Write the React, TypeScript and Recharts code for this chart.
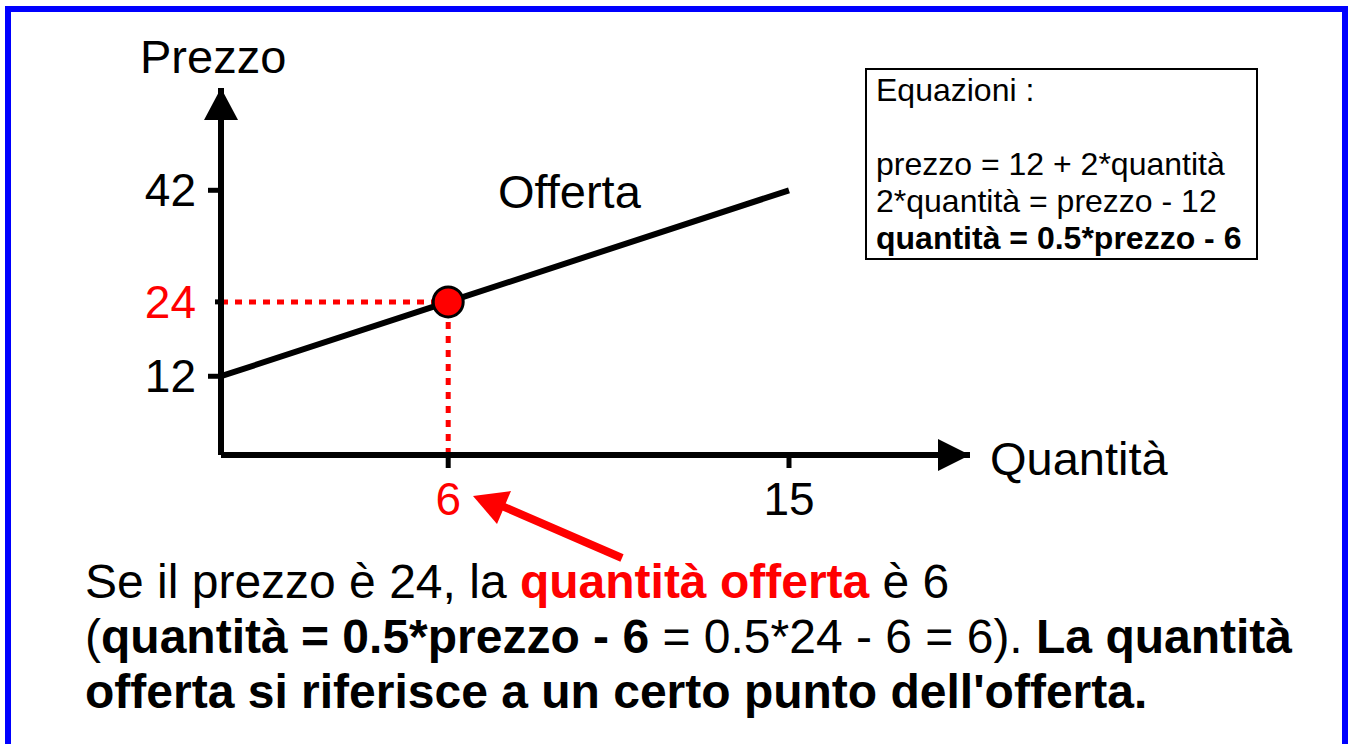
import React from 'react';
import { LineChart, Line, XAxis, YAxis, ReferenceDot, ReferenceLine } from 'recharts';

const supplyQty = [0, 6, 15];
const supplyPrice = [12, 24, 42];
const xTicks = [6, 15];
const yTicks = [12, 24, 42];
const highlightQty = 6;
const highlightPrice = 24;
const xDomain = [0, 19.78];
const yDomain = [-0.7, 58.5];

const equations = ['prezzo = 12 + 2*quantità', '2*quantità = prezzo - 12'];
const boldEquation = 'quantità = 0.5*prezzo - 6';

const data = supplyQty.map((q, i) => ({ q, p: supplyPrice[i] }));

const FONT = '"Liberation Sans", Arial, sans-serif';
const RED = '#ff0000';

const YTick = (props: any) => {
  const { x, y, payload } = props;
  const hot = payload.value === highlightPrice;
  return (
    <g>
      <line x1={x - (hot ? 6 : 13)} x2={x} y1={y} y2={y} stroke="#000" strokeWidth={5} />
      <text x={x - 25} y={y + 16} textAnchor="end" fontSize={46} fontFamily={FONT} fill={hot ? RED : '#000'}>
        {payload.value}
      </text>
    </g>
  );
};

const XTick = (props: any) => {
  const { x, y, payload } = props;
  const hot = payload.value === highlightQty;
  return (
    <g>
      <line x1={x} x2={x} y1={y} y2={y + 13} stroke="#000" strokeWidth={5} />
      <text x={x} y={y + 60} textAnchor="middle" fontSize={46} fontFamily={FONT} fill={hot ? RED : '#000'}>
        {payload.value}
      </text>
    </g>
  );
};

const ArrowRight = (props: any) => {
  const { cx, cy } = props;
  return <polygon points={`${cx},${cy} ${cx - 32},${cy - 16} ${cx - 32},${cy + 16}`} fill="#000" />;
};

const ArrowUp = (props: any) => {
  const { cx, cy } = props;
  return <polygon points={`${cx},${cy} ${cx - 17},${cy + 32} ${cx + 17},${cy + 32}`} fill="#000" />;
};

export default function App() {
  return (
    <div style={{ position: 'absolute', left: 0, top: 0, width: 1354, height: 744, background: '#fff', overflow: 'hidden', fontFamily: FONT }}>
      <div style={{ position: 'absolute', left: 5, top: 6, width: 1343, height: 800, border: '6px solid #0000ff', boxSizing: 'border-box' }} />
      <div style={{ position: 'absolute', left: 0, top: 0 }}>
        <LineChart width={1354} height={744} data={data} margin={{ top: 88, right: 384, left: 0, bottom: 0 }}>
          <XAxis
            type="number"
            dataKey="q"
            domain={xDomain}
            allowDataOverflow
            ticks={xTicks}
            height={289}
            tickSize={0}
            tickMargin={0}
            tickLine={false}
            axisLine={{ stroke: '#000', strokeWidth: 6 }}
            tick={<XTick />}
          />
          <YAxis
            type="number"
            domain={yDomain}
            allowDataOverflow
            ticks={yTicks}
            width={221}
            tickSize={0}
            tickMargin={0}
            tickLine={false}
            axisLine={{ stroke: '#000', strokeWidth: 6 }}
            tick={<YTick />}
          />
          <ReferenceLine
            segment={[{ x: 0, y: highlightPrice }, { x: highlightQty, y: highlightPrice }]}
            stroke={RED}
            strokeWidth={5}
            strokeDasharray="7 7"
            ifOverflow="visible"
          />
          <ReferenceLine
            segment={[{ x: highlightQty, y: yDomain[0] }, { x: highlightQty, y: highlightPrice }]}
            stroke={RED}
            strokeWidth={5}
            strokeDasharray="7 7"
            ifOverflow="visible"
          />
          <Line type="linear" dataKey="p" stroke="#000" strokeWidth={6} dot={false} isAnimationActive={false} />
          <ReferenceDot x={highlightQty} y={highlightPrice} r={15} fill={RED} stroke="#000" strokeWidth={3} ifOverflow="visible" />
          <ReferenceDot x={xDomain[1]} y={yDomain[0]} shape={<ArrowRight />} ifOverflow="visible" />
          <ReferenceDot x={xDomain[0]} y={yDomain[1]} shape={<ArrowUp />} ifOverflow="visible" />
        </LineChart>
      </div>

      <div style={{ position: 'absolute', left: 140, top: 29, fontSize: 47, lineHeight: '55px' }}>Prezzo</div>
      <div style={{ position: 'absolute', left: 990, top: 431, fontSize: 47, lineHeight: '55px' }}>Quantità</div>
      <div style={{ position: 'absolute', left: 498, top: 164, fontSize: 47, lineHeight: '55px' }}>Offerta</div>

      <div
        style={{
          position: 'absolute',
          left: 865,
          top: 68,
          width: 393,
          height: 192,
          border: '2px solid #000',
          boxSizing: 'border-box',
          padding: '2px 0 0 9px',
          fontSize: 32,
          lineHeight: '37px',
          whiteSpace: 'nowrap',
        }}
      >
        <div>Equazioni :</div>
        <div>&nbsp;</div>
        {equations.map((e) => (
          <div key={e}>{e}</div>
        ))}
        <div style={{ fontWeight: 'bold' }}>{boldEquation}</div>
      </div>

      <svg style={{ position: 'absolute', left: 0, top: 0 }} width={1354} height={744}>
        <line x1={622} y1={558} x2={495} y2={503} stroke={RED} strokeWidth={8} />
        <polygon points="473,496 511,491 497,524" fill={RED} />
      </svg>

      <div style={{ position: 'absolute', left: 85, top: 554, fontSize: 48, lineHeight: '55px', whiteSpace: 'nowrap' }}>
        Se il prezzo è 24, la <b style={{ color: RED }}>quantità offerta</b> è 6
        <br />
        (<b>quantità = 0.5*prezzo - 6</b> = 0.5*24 - 6 = 6). <b>La quantità</b>
        <br />
        <b>offerta si riferisce a un certo punto dell'offerta.</b>
      </div>
    </div>
  );
}
